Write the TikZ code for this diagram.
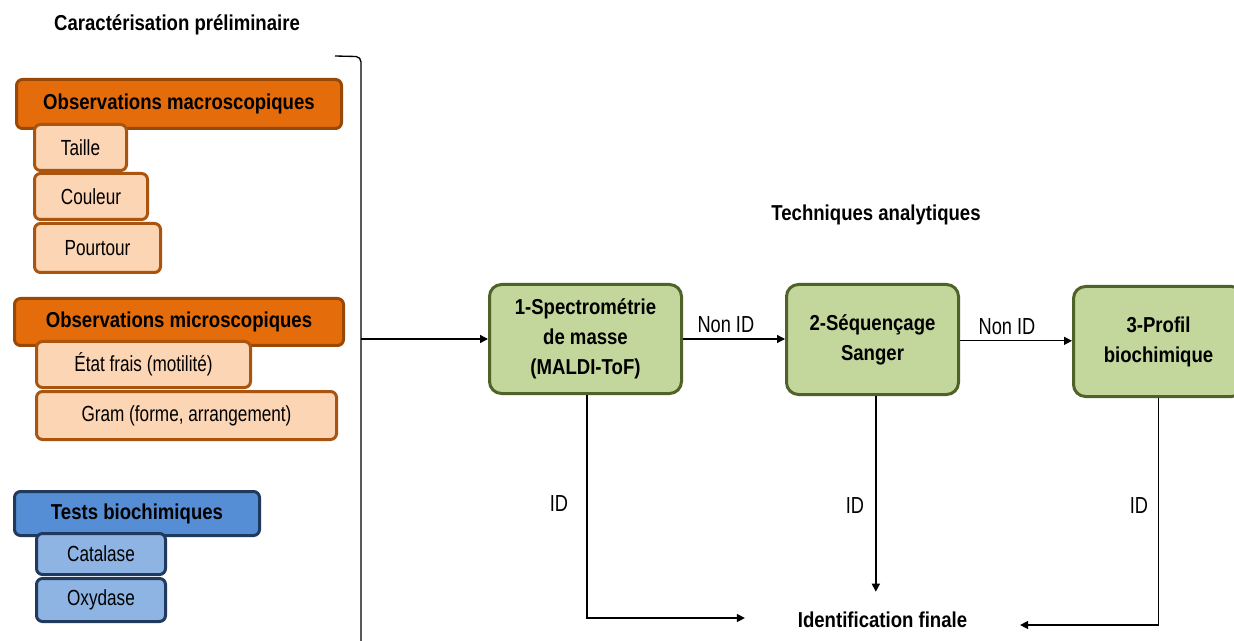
\documentclass[tikz,border=0pt]{standalone}
\usepackage{fontspec}
\setmainfont{Liberation Sans}
\newfontfamily\rfont{Liberation Sans}[FakeStretch=0.785]
\newfontfamily\bfnt{Liberation Sans}[FakeStretch=0.86]
\usetikzlibrary{arrows.meta}
\definecolor{orangeF}{HTML}{E46C0A}
\definecolor{orangeD}{HTML}{984807}
\definecolor{peach}{HTML}{FCD5B5}
\definecolor{peachD}{HTML}{A9540F}
\definecolor{blueF}{HTML}{558ED5}
\definecolor{blueD}{HTML}{1F3A5C}
\definecolor{blueL}{HTML}{8EB4E3}
\definecolor{greenF}{HTML}{C3D69B}
\definecolor{greenD}{HTML}{4F6228}
\begin{document}
\begin{tikzpicture}[x=0.75pt,y=-0.75pt,
  box/.style={rounded corners=4.5pt, line width=2.25pt, inner sep=0pt, align=center},
  hdr/.style={box, font=\bfnt\bfseries\fontsize{16.2}{19}\selectfont},
  sub/.style={box, font=\rfont\fontsize{16.4}{19}\selectfont},
  ohdr/.style={hdr, draw=orangeD, fill=orangeF},
  osub/.style={sub, draw=peachD, fill=peach},
  bhdr/.style={hdr, draw=blueD, fill=blueF},
  bsub/.style={sub, draw=blueD, fill=blueL},
  tech/.style={rounded corners=9pt, line width=2.25pt, draw=greenD, fill=greenF, inner sep=0pt, align=center,
    font=\bfnt\bfseries\fontsize{16.2}{22.5}\selectfont},
  ttl/.style={inner sep=0pt, font=\bfnt\bfseries\fontsize{16.2}{19}\selectfont},
  lbl/.style={inner sep=0pt, font=\rfont\fontsize{17.4}{20}\selectfont},
  arr/.style={line width=1pt, -{Triangle[length=6pt,width=6pt]}},
  ln/.style={line width=1pt}
]
\useasboundingbox[fill=white] (0,0) rectangle (1234,641);

% titles
\node[ttl] (t1) at (177,25) {Caractérisation préliminaire};
\node[ttl] (t2) at (876,215) {Techniques analytiques};

% bracket
\draw[ln] (335,56) -- (356,56.5) to[out=0,in=90] (361,62) -- (361,660);
\coordinate (br) at (361,339);

% orange groups
\node[ohdr, minimum width=243.75pt, minimum height=36.75pt] (mac) at (179,104) {Observations macroscopiques};
\node[osub, minimum width=69pt, minimum height=34.5pt] (taille) at (80.5,147.5) {Taille};
\node[osub, minimum width=84.75pt, minimum height=34.5pt] (coul) at (91,196.5) {Couleur};
\node[osub, minimum width=94.5pt, minimum height=36.75pt] (pour) at (97.5,248) {Pourtour};

\node[ohdr, minimum width=246.75pt, minimum height=35.25pt] (mic) at (179,322) {Observations microscopiques};
\node[osub, minimum width=160.5pt, minimum height=34.5pt] (etat) at (143.5,364.5) {État frais (motilité)};
\node[osub, minimum width=225pt, minimum height=36pt] (gram) at (186.5,415.5) {Gram (forme, arrangement)};

% blue group
\node[bhdr, minimum width=183.75pt, minimum height=33pt] (tests) at (137,513.5) {Tests biochimiques};
\node[bsub, minimum width=96.75pt, minimum height=30.75pt] (cat) at (101,554) {Catalase};
\node[bsub, minimum width=96.75pt, minimum height=32.25pt] (oxy) at (101,600) {Oxydase};

% technique boxes
\node[tech, minimum width=144pt, minimum height=81.75pt] (b1) at (585.5,339) {1-Spectrométrie\\de masse\\(MALDI-ToF)};
\node[tech, minimum width=129pt, minimum height=82.5pt] (b2) at (872.5,339.5) {2-Séquençage\\Sanger};
\node[tech, minimum width=127.5pt, minimum height=82.5pt] (b3) at (1158.5,341.5) {3-Profil\\biochimique};

% final
\node[ttl, minimum width=206pt, minimum height=42pt] (idf) at (882.5,620) {Identification finale};

% connectors
\draw[arr] (br) -- (br -| b1.west);
\draw[arr] (b1.east) -- node[lbl, above, pos=0.42, inner sep=4pt] {Non ID} (b1.east -| b2.west);
\draw[arr] ([yshift=-1pt]b2.east) -- node[lbl, above, pos=0.42, inner sep=4pt] {Non ID} ([yshift=-1pt]b2.east -| b3.west);
\draw[arr] ([xshift=1pt]b1.south) |- ([yshift=1.5pt]idf.west);
\draw[arr] ([xshift=2.5pt]b2.south) -- ([xshift=2.5pt]b2.south |- idf.north);
\draw[arr] (b3.south) |- ([yshift=-3.75pt]idf.east);

% ID labels
\node[lbl] (id1) at (559,504) {ID};
\node[lbl] (id2) at (855,506) {ID};
\node[lbl] (id3) at (1139,506) {ID};
\end{tikzpicture}
\end{document}
